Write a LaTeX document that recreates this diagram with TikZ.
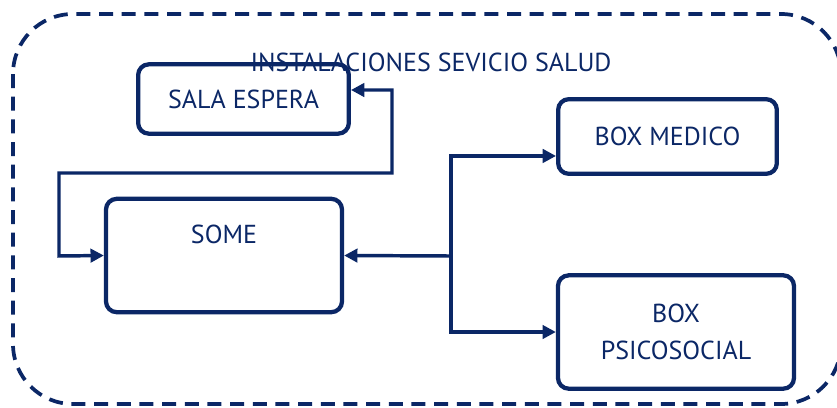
\documentclass[tikz,border=0pt]{standalone}
\usepackage{fontspec}
\setmainfont{PT Sans}
\usetikzlibrary{arrows.meta}
\definecolor{navy}{HTML}{0B2766}
\tikzset{
  txt/.style={text=navy, font=\fontsize{19.5}{28}\selectfont, align=center, inner sep=0pt},
  box/.style={txt, draw=navy, line width=3.2pt, rounded corners=8pt},
  link/.style={draw=navy, line width=2.6pt, >={Triangle[length=10pt,width=10pt]}},
  frame/.style={draw=navy, line width=2.8pt, dash pattern=on 10.5pt off 6.5pt, rounded corners=45pt}
}
\begin{document}
\begin{tikzpicture}[x=0.75pt,y=-0.75pt]
        \useasboundingbox (0,0) rectangle (837,407);
        \path[frame] (13,14) rectangle (841,404);

        \node[box, minimum width=158pt, minimum height=52pt] (sala) at (243.5,99) {SALA ESPERA};
        \node[box, minimum width=177pt, minimum height=85pt] (some) at (224,255.5) {};
        \node[txt] (somelbl) at (224,234) {SOME};
        \node[box, minimum width=164pt, minimum height=56pt] (medico) at (667.5,136.5) {BOX MEDICO};
        \node[box, minimum width=177pt, minimum height=85pt] (psico) at (676,332) {BOX\\PSICOSOCIAL};
        \node[txt] (titulo) at (431,62) {INSTALACIONES SEVICIO SALUD};

        \coordinate (hub) at (451,256);

        \path[link,<->] ([yshift=6.75pt]sala.east) -| (392,173) -| (59,256) -- (some.west);
        \path[link,->] (hub) -- (some.east);
        \path[link,->] (hub) |- ([yshift=-14.6pt]medico.west);
        \path[link,->] (hub) |- (psico.west);
    \end{tikzpicture}
\end{document}
